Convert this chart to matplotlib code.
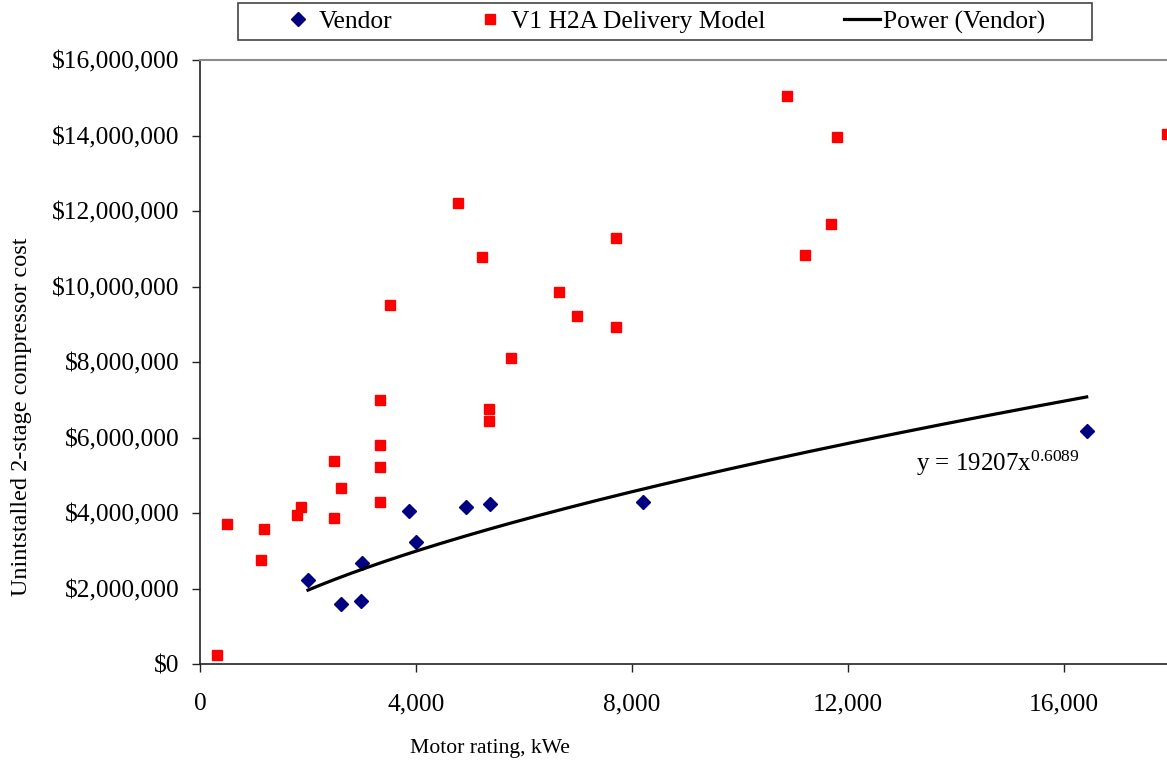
import matplotlib
matplotlib.use("Agg")
import matplotlib.pyplot as plt
import numpy as np
from matplotlib.ticker import FuncFormatter
from matplotlib.patches import Rectangle

plt.rcParams['font.family'] = ['Liberation Serif', 'DejaVu Serif']
plt.rcParams['mathtext.fontset'] = 'custom'
plt.rcParams['mathtext.rm'] = 'Liberation Serif'
plt.rcParams['mathtext.it'] = 'Liberation Serif:italic'

# vendor quotes (kWe, $)
vendor_kwe = [2000, 2611, 2981, 3000, 3877, 4006, 4926, 5376, 8210, 16420]
vendor_cost = [2.24e6, 1.59e6, 1.68e6, 2.69e6, 4.05e6, 3.24e6, 4.16e6, 4.25e6, 4.30e6, 6.19e6]

# V1 H2A delivery model
model_kwe = [309, 494, 1124, 1185, 1790, 1864, 2488, 2488, 2611, 3327, 3327, 3327, 3327,
             3513, 4778, 5222, 5352, 5352, 5753, 6648, 6975, 7698, 7698,
             10864, 11198, 11679, 11790, 17900]
model_cost = [0.25e6, 3.72e6, 2.77e6, 3.59e6, 3.96e6, 4.16e6, 5.39e6, 3.88e6, 4.67e6,
              7.01e6, 5.82e6, 5.23e6, 4.30e6, 9.52e6, 12.23e6, 10.79e6, 6.76e6, 6.45e6,
              8.11e6, 9.87e6, 9.23e6, 11.29e6, 8.94e6, 15.05e6, 10.85e6, 11.66e6,
              13.97e6, 14.05e6]

# power trendline reported on the chart
coef_a = 19207
coef_b = 0.6089

W, H = 1167, 767
FS = 18.4
fig = plt.figure(figsize=(W / 100, H / 100), dpi=100)
# axis runs to 20,000 but the picture is cropped at the right
ax = fig.add_axes([200 / W, (H - 664.3) / H, 1080 / W, 604 / H])

ax.plot(vendor_kwe, vendor_cost, linestyle='none', marker='D', markersize=6.8,
        color='#000080', label='Vendor', clip_on=False)
ax.plot(model_kwe, model_cost, linestyle='none', marker='s', markersize=7.2,
        color='#ff0000', label='V1 H2A Delivery Model', clip_on=False)

xs = np.linspace(min(vendor_kwe), max(vendor_kwe), 200)
ax.plot(xs, coef_a * xs ** coef_b, color='black', lw=2.3, label='Power (Vendor)')

ax.set_xlim(0, 20000)
ax.set_ylim(0, 16e6)
ax.set_xticks(np.arange(0, 16001, 4000))
ax.set_yticks(np.arange(0, 16e6 + 1, 2e6))
ax.xaxis.set_major_formatter(FuncFormatter(lambda v, p: '{:,.0f}'.format(v)))
ax.yaxis.set_major_formatter(FuncFormatter(lambda v, p: '${:,.0f}'.format(v)))
ax.tick_params(axis='both', direction='out', length=6, width=1, labelsize=FS, color='#222222')
ax.tick_params(axis='x', pad=15)
ax.tick_params(axis='y', pad=9)

for s in ['left', 'bottom']:
    ax.spines[s].set_color('#222222')
    ax.spines[s].set_linewidth(1.2)
ax.spines['top'].set_color('#8c8c8c')
ax.spines['top'].set_linewidth(1.5)
ax.spines['right'].set_visible(False)

fig.text(490 / W, 1 - 748 / H, 'Motor rating, kWe', ha='center', va='center', fontsize=15.6)
fig.text(22 / W, 1 - 417 / H, 'Unintstalled 2-stage compressor cost', ha='center', va='center',
         rotation=90, fontsize=17.5)

fig.text(916 / W, 1 - 471 / H, 'y = 19207x$^{0.6089}$', ha='left', va='baseline', fontsize=18)

# legend box drawn separately, entries placed inside it
fig.patches.append(Rectangle((238 / W, 1 - 40 / H), (1092 - 238) / W, 37 / H,
                             transform=fig.transFigure, fill=False,
                             edgecolor='#444444', linewidth=1.2))
leg = fig.legend(loc='center left', bbox_to_anchor=(280 / W, 1 - 22 / H),
                 ncol=3, fontsize=FS, frameon=False,
                 handlelength=1.4, handletextpad=0.12,
                 borderaxespad=0, borderpad=0, columnspacing=3.1)

fig.savefig('out.png', dpi=100)
